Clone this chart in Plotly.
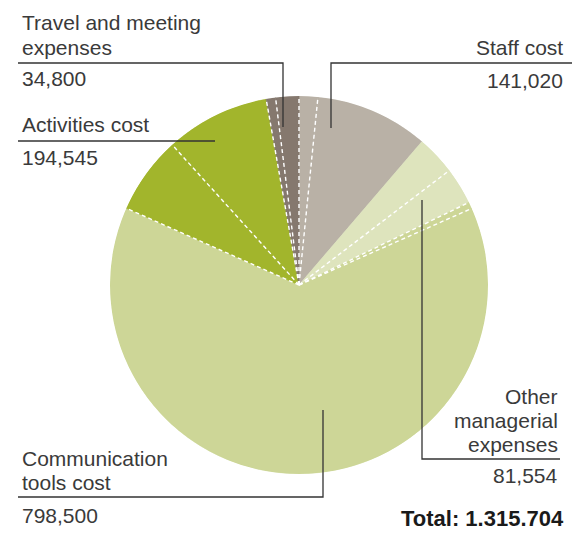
import plotly.graph_objects as go

# Budget breakdown (EUR); each category is split into its sub-items
categories = ["Staff cost", "Other managerial expenses", "Communication tools cost",
              "Activities cost", "Travel and meeting expenses"]
totals = [141020, 81554, 798500, 194545, 34800]
sub_items = [
    [20000, 121020],
    [42000, 39554],
    [7000, 791500],
    [83000, 111545],
    [10000, 24800],
]
colors = ["#b9b1a6", "#dee4bd", "#cdd697", "#a2b52c", "#85786e"]
label_lines = [
    ["Staff cost"],
    ["Other", "managerial", "expenses"],
    ["Communication", "tools cost"],
    ["Activities cost"],
    ["Travel and meeting", "expenses"],
]
value_labels = ["141,020", "81,554", "798,500", "194,545", "34,800"]
total_label = "Total: 1.315.704"

W, H = 572, 533
grand = sum(sum(s) for s in sub_items)

# wedge geometry (clockwise from 12 o'clock)
thetas, widths, fills = [], [], []
edges = []
start = 0.0
for ci, subs in enumerate(sub_items):
    for si, v in enumerate(subs):
        w = v / grand * 360.0
        thetas.append(start + w / 2)
        widths.append(w)
        fills.append(colors[ci])
        # white dashed divider at the start of each piece (not between staff / other)
        if not (ci == 1 and si == 0):
            edges.append(start)
        start += w

fig = go.Figure()
fig.add_trace(go.Barpolar(
    r=[1] * len(thetas), theta=thetas, width=widths,
    marker=dict(color=fills, line=dict(color=fills, width=0.6)),
    hoverinfo="skip", showlegend=False,
))
for a in edges:
    fig.add_trace(go.Scatterpolar(
        r=[0, 1], theta=[a, a], mode="lines",
        line=dict(color="white", width=1.4, dash="4px,3px"),
        hoverinfo="skip", showlegend=False,
    ))

cx, cy, R = 299, 285, 189
fig.update_layout(
    width=W, height=H,
    margin=dict(l=0, r=0, t=0, b=0),
    paper_bgcolor="white", plot_bgcolor="white",
    polar=dict(
        domain=dict(x=[(cx - R) / W, (cx + R) / W],
                    y=[1 - (cy + R) / H, 1 - (cy - R) / H]),
        bgcolor="rgba(0,0,0,0)",
        radialaxis=dict(visible=False, range=[0, 1]),
        angularaxis=dict(visible=False, rotation=90, direction="clockwise"),
        bargap=0,
    ),
    font=dict(family="Liberation Sans, Arial, sans-serif", color="#3a3a3a"),
)


def px(x):
    return x / W


def py(y):
    return 1 - y / H


FS = 21
LINE_H = 24


def add_text(lines, x, y_first, anchor):
    for i, t in enumerate(lines):
        fig.add_annotation(
            x=px(x), y=py(y_first + i * LINE_H), xref="paper", yref="paper",
            text=t, showarrow=False, xanchor=anchor, yanchor="middle",
            font=dict(size=FS, color="#3a3a3a"),
        )


def leader(points):
    path = "M " + " L ".join(f"{px(x)},{py(y)}" for x, y in points)
    fig.add_shape(type="path", path=path, xref="paper", yref="paper",
                  line=dict(color="#333333", width=1.3))


# Staff cost
add_text(label_lines[0], 565, 47, "right")
add_text([value_labels[0]], 565, 80, "right")
leader([(572, 63), (331, 63), (331, 128)])

# Other managerial expenses
add_text(label_lines[1], 560, 396, "right")
add_text([value_labels[1]], 560, 475, "right")
leader([(422, 200), (422, 459), (560, 459)])

# Communication tools cost
add_text(label_lines[2], 20, 458, "left")
add_text([value_labels[2]], 20, 515, "left")
leader([(323, 410), (323, 497), (18, 497)])

# Activities cost
add_text(label_lines[3], 20, 125, "left")
add_text([value_labels[3]], 20, 157, "left")
leader([(18, 141), (215, 141)])

# Travel and meeting expenses
add_text(label_lines[4], 20, 23, "left")
add_text([value_labels[4]], 20, 79, "left")
leader([(18, 63), (283, 63), (283, 127)])

fig.add_annotation(
    x=px(566), y=py(518), xref="paper", yref="paper",
    text=f"<b>{total_label}</b>", showarrow=False, xanchor="right", yanchor="middle",
    font=dict(size=22, color="#1a1a1a"),
)

fig.write_html("out.html")
